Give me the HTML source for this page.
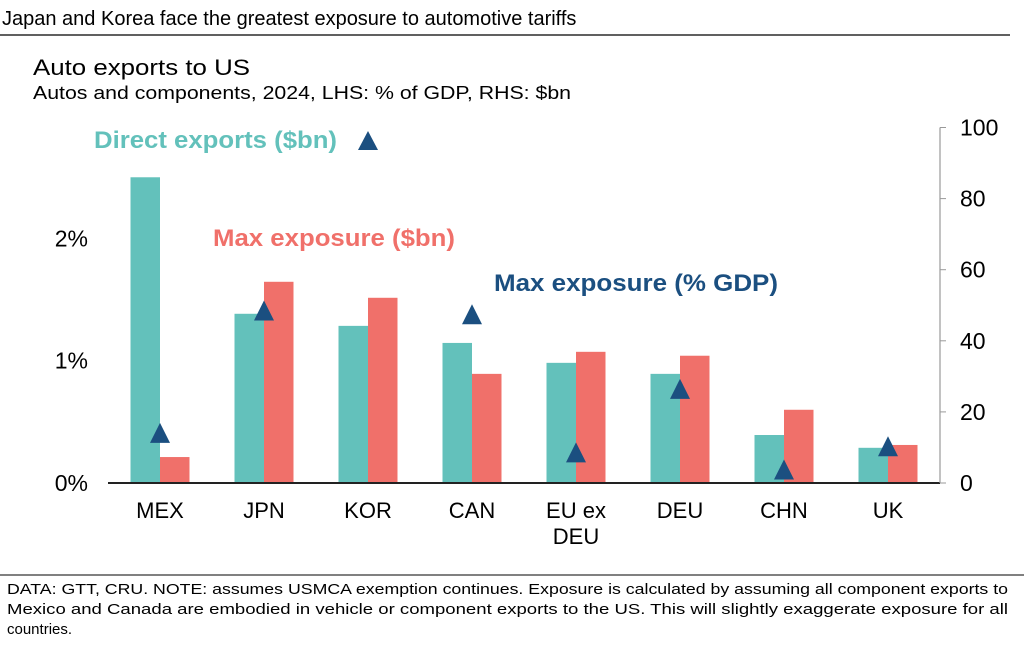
<!DOCTYPE html>
<html><head><meta charset="utf-8"><style>
body{margin:0;background:#fff;font-family:"Liberation Sans",Arial,sans-serif;}
#wrap{position:relative;width:1024px;height:646px;overflow:hidden;}
</style></head><body>
<div id="wrap">
<svg id="svg" width="1024" height="646" xmlns="http://www.w3.org/2000/svg" font-family="Liberation Sans, Arial, sans-serif">
<text x="2" y="25" font-size="20" fill="#000">Japan and Korea face the greatest exposure to automotive tariffs</text>
<line x1="0" y1="35" x2="1010" y2="35" stroke="#000" stroke-width="1.2"/>
<text x="33" y="75" font-size="22" fill="#000" textLength="217" lengthAdjust="spacingAndGlyphs">Auto exports to US</text>
<text x="33" y="99" font-size="18" fill="#000" textLength="538" lengthAdjust="spacingAndGlyphs">Autos and components, 2024, LHS: % of GDP, RHS: $bn</text>
<g id="plot"></g>
<text x="94" y="148" font-size="24" font-weight="bold" fill="#63c1bb" textLength="243" lengthAdjust="spacingAndGlyphs">Direct exports ($bn)</text>
<polygon points="368,131 358,150 378,150" fill="#1b4f80"/>
<text x="213" y="246" font-size="24" font-weight="bold" fill="#f0706a" textLength="242" lengthAdjust="spacingAndGlyphs">Max exposure ($bn)</text>
<text x="494" y="291" font-size="24" font-weight="bold" fill="#1b4f80" textLength="284" lengthAdjust="spacingAndGlyphs">Max exposure (% GDP)</text>
<line x1="0" y1="575" x2="1024" y2="575" stroke="#000" stroke-width="1"/>
<text font-size="15" fill="#000">
<tspan x="7" y="594" textLength="1001" lengthAdjust="spacingAndGlyphs">DATA: GTT, CRU. NOTE: assumes USMCA exemption continues. Exposure is calculated by assuming all component exports to</tspan>
<tspan x="7" y="614" textLength="1001" lengthAdjust="spacingAndGlyphs">Mexico and Canada are embodied in vehicle or component exports to the US. This will slightly exaggerate exposure for all</tspan>
<tspan x="7" y="634">countries.</tspan>
</text>
</svg>
</div>
<script>
const categories=["MEX","JPN","KOR","CAN","EU ex|DEU","DEU","CHN","UK"];
const directExports=[86,47.6,44.2,39.4,33.8,30.7,13.5,9.9];
const maxExposureBn=[7.3,56.6,52.1,30.7,36.9,35.8,20.6,10.7];
const maxExposureGdp=[0.41,1.41,null,1.38,0.25,0.77,0.11,0.3];
const leftTicks=[0,1,2];
const leftTickLabels=["0%","1%","2%"];
const rightTicks=[0,20,40,60,80,100];

const NS="http://www.w3.org/2000/svg";
const g=document.getElementById('plot');
const x0=108,x1=940,y0=483;
const yL=v=>y0-v*122.3;
const yR=v=>y0-v*3.555;
const band=(x1-x0)/categories.length;
const cx=i=>x0+band*(i+0.5);
function mk(tag,attrs){const e=document.createElementNS(NS,tag);for(const k in attrs)e.setAttribute(k,attrs[k]);g.appendChild(e);return e;}
const bw=29.5;
categories.forEach((c,i)=>{
  let r=mk('rect',{x:cx(i)-bw,y:yR(directExports[i]),width:bw,height:y0-yR(directExports[i]),fill:'#63c1bb'});
  
  
  let r2=mk('rect',{x:cx(i),y:yR(maxExposureBn[i]),width:bw,height:y0-yR(maxExposureBn[i]),fill:'#f0706a'});
  
  
});
categories.forEach((c,i)=>{
  const v=maxExposureGdp[i];
  if(v!==null){const y=yL(v);
    let t=mk('polygon',{points:`${cx(i)},${y-10} ${cx(i)-10},${y+10} ${cx(i)+10},${y+10}`,fill:'#1b4f80'});
    
    }
  const parts=c.split('|');
  parts.forEach((p,j)=>{let t=mk('text',{x:cx(i),y:518+j*26,'font-size':22,'text-anchor':'middle',fill:'#000'});t.textContent=p;
    
    });
});
let ax=mk('line',{x1:x0,y1:y0,x2:x1,y2:y0,stroke:'#222','stroke-width':2});


let ra=mk('line',{x1:x1,y1:yR(100),x2:x1,y2:y0,stroke:'#999','stroke-width':1.2});


rightTicks.forEach(v=>{
  let l=mk('line',{x1:x1,y1:yR(v),x2:x1+6,y2:yR(v),stroke:'#999'});
  
  
  let t=mk('text',{x:960,y:yR(v)+8,'font-size':23,fill:'#000'});t.textContent=v;
  
  
});
leftTicks.forEach((v,i)=>{
  let t=mk('text',{x:88,y:yL(v)+8,'font-size':23,'text-anchor':'end',fill:'#000'});t.textContent=leftTickLabels[i];
  
  
});
</script>
</body></html>
